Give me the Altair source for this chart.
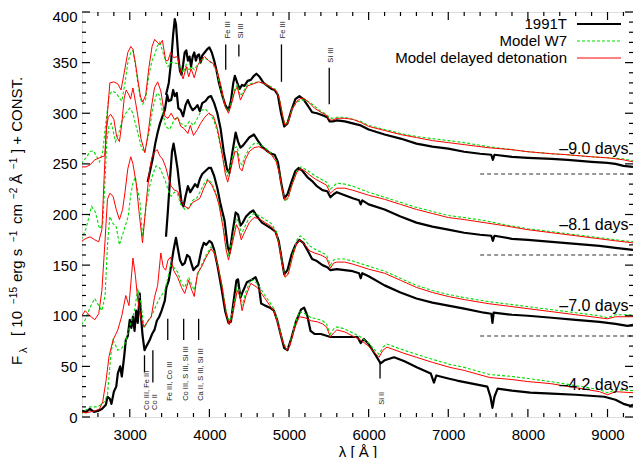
import altair as alt
import pandas as pd

# ---------------- data (wavelength [A], flux + const) ----------------
M90_OBS = [(3455,318),(3490,330),(3520,352),(3545,378),(3565,393),(3580,388),(3595,372),(3610,355),(3630,342),(3650,338),(3670,348),(3690,360),(3710,362),(3730,352),(3750,356),(3770,346),(3790,356),(3810,360),(3830,352),(3850,357),(3870,358),(3890,350),(3910,357),(3940,360),(3970,363),(4000,365),(4030,360),(4060,352),(4090,342),(4120,330),(4160,318),(4200,308),(4240,303),(4270,312),(4300,330),(4320,337),(4350,330),(4380,324),(4410,328),(4440,327),(4480,332),(4520,333),(4560,337),(4590,339),(4630,336),(4680,330),(4730,327),(4780,324),(4820,323),(4860,318),(4900,300),(4940,287),(4980,290),(5030,303),(5080,314),(5130,317),(5180,314),(5240,307),(5290,301),(5350,300),(5420,298),(5480,296),(5510,292),(5550,292),(5600,293),(5700,292),(5800,290),(5900,288),(6000,284),(6200,279),(6400,275),(6600,270),(6800,267),(7000,265),(7200,262),(7400,260),(7540,259),(7560,254),(7580,259),(7800,257),(8000,256),(8300,255),(8500,254),(8800,252),(9000,251),(9100,250),(9200,248),(9320,247)]
M90_W7 = [(2390,250),(2450,256),(2500,262),(2540,263),(2580,258),(2620,252),(2660,262),(2700,291),(2740,318),(2780,322),(2830,320),(2870,315),(2900,312),(2940,330),(2975,350),(3013,360),(3040,362),(3070,348),(3100,330),(3135,314),(3163,309),(3200,314),(3240,338),(3280,352),(3313,358),(3345,366),(3376,370),(3410,362),(3451,351),(3480,346),(3513,350),(3550,350),(3601,349),(3640,345),(3670,340),(3710,348),(3740,342),(3770,346),(3810,343),(3850,348),(3890,351),(3940,355),(3990,352),(4050,348),(4100,338),(4150,322),(4200,306),(4240,302),(4280,313),(4320,324),(4350,328),(4390,317),(4430,322),(4480,328),(4550,330),(4620,331),(4700,329),(4780,326),(4840,323),(4880,315),(4920,298),(4950,289),(4990,292),(5040,305),(5100,311),(5150,313),(5200,313),(5260,311),(5320,307),(5400,302),(5470,299),(5500,296),(5540,295),(5600,296),(5700,296),(5800,294),(5900,292),(6000,288),(6200,284),(6400,280),(6600,277),(6800,275),(7000,273),(7200,271),(7500,267),(7800,264),(8000,262),(8300,260),(8500,259),(8800,257),(9000,256),(9200,255),(9320,253)]
M90_DD = [(2390,247),(2450,247),(2500,249),(2560,254),(2620,256),(2685,258),(2720,300),(2750,330),(2800,331),(2850,329),(2890,323),(2930,340),(2975,360),(3013,366),(3040,363),(3070,350),(3100,334),(3135,316),(3163,311),(3200,318),(3240,345),(3280,366),(3313,373),(3345,370),(3376,368),(3410,372),(3451,352),(3480,352),(3513,360),(3550,355),(3601,356),(3640,340),(3670,334),(3710,346),(3740,336),(3770,344),(3810,335),(3850,347),(3890,352),(3940,356),(3990,352),(4050,349),(4100,341),(4150,326),(4200,306),(4240,300),(4280,310),(4320,322),(4350,326),(4390,313),(4430,320),(4480,327),(4550,329),(4620,331),(4700,329),(4780,325),(4840,322),(4880,314),(4920,298),(4950,288),(4990,291),(5040,304),(5100,312),(5150,315),(5200,314),(5260,310),(5320,305),(5400,301),(5470,298),(5500,294),(5540,293),(5600,295),(5700,295),(5800,294),(5900,291),(6000,287),(6200,283),(6400,279),(6600,276),(6800,273),(7000,271),(7200,269),(7500,266),(7800,264),(8000,262),(8300,260),(8500,259),(8800,257),(9000,256),(9200,254),(9320,252)]

M81_OBS = [(3225,232),(3260,245),(3290,256),(3320,270),(3350,281),(3380,290),(3410,297),(3440,303),(3470,318),(3490,312),(3520,313),(3545,323),(3565,317),(3590,320),(3610,305),(3640,303),(3670,297),(3700,308),(3730,313),(3760,307),(3790,303),(3820,305),(3850,308),(3880,302),(3910,310),(3950,312),(3990,316),(4020,317),(4060,310),(4100,300),(4140,285),(4180,262),(4220,245),(4250,241),(4290,262),(4330,281),(4360,272),(4390,266),(4420,268),(4450,271),(4500,276),(4560,279),(4600,274),(4660,267),(4720,263),(4780,260),(4820,259),(4860,252),(4900,232),(4940,216),(4980,220),(5030,232),(5080,243),(5120,246),(5170,243),(5230,237),(5290,233),(5350,228),(5420,224),(5480,223),(5520,217),(5560,220),(5600,222),(5700,219),(5800,216),(5880,214),(5900,210),(5920,214),(6000,210),(6200,205),(6400,198),(6600,192),(6800,188),(7000,185),(7200,182),(7400,180),(7540,179),(7560,174),(7580,179),(7800,176),(8000,175),(8300,173),(8600,171),(8900,169),(9100,167),(9320,165)]
M81_W7 = [(2390,175),(2450,186),(2520,208),(2570,202),(2620,186),(2660,190),(2690,235),(2710,272),(2740,288),(2770,290),(2820,272),(2860,280),(2900,292),(2950,300),(3000,305),(3040,300),(3070,290),(3110,278),(3150,265),(3190,262),(3240,280),(3290,305),(3340,320),(3370,318),(3400,306),(3450,287),(3500,284),(3550,292),(3601,296),(3640,290),(3700,287),(3750,292),(3800,288),(3850,295),(3900,303),(3950,304),(4000,300),(4050,294),(4100,282),(4150,262),(4200,244),(4230,238),(4270,250),(4320,266),(4350,267),(4380,252),(4410,249),(4450,258),(4500,265),(4560,270),(4620,270),(4700,266),(4780,260),(4840,253),(4880,241),(4920,222),(4950,213),(4990,216),(5040,230),(5100,243),(5150,247),(5200,245),(5260,242),(5330,238),(5400,235),(5470,232),(5520,225),(5560,228),(5600,231),(5700,230),(5800,228),(6000,222),(6200,217),(6400,212),(6600,207),(6800,203),(7000,199),(7200,197),(7450,194),(7700,190),(8000,186),(8300,183),(8600,180),(8900,177),(9100,175),(9320,173)]
M81_DD = [(2390,173),(2440,176),(2500,178),(2560,175),(2610,173),(2650,185),(2680,240),(2705,284),(2730,296),(2760,299),(2800,294),(2835,277),(2870,272),(2900,290),(2930,315),(2955,323),(2990,318),(3010,314),(3040,325),(3070,312),(3100,298),(3140,275),(3190,261),(3230,280),(3270,305),(3310,325),(3350,331),(3390,322),(3440,297),(3480,295),(3520,300),(3560,294),(3601,296),(3640,287),(3680,285),(3730,280),(3760,288),(3800,278),(3850,284),(3890,290),(3940,296),(3990,300),(4050,297),(4100,285),(4150,265),(4200,240),(4230,232),(4270,245),(4320,262),(4350,262),(4380,246),(4410,243),(4450,254),(4500,262),(4560,266),(4620,267),(4700,264),(4780,259),(4840,252),(4880,240),(4920,222),(4950,214),(4990,217),(5040,230),(5100,242),(5150,245),(5200,243),(5260,239),(5330,235),(5400,232),(5470,229),(5520,221),(5560,224),(5600,226),(5700,226),(5800,224),(6000,219),(6200,215),(6400,210),(6600,205),(6800,201),(7000,197),(7200,195),(7450,192),(7700,189),(8000,185),(8300,182),(8600,179),(8900,176),(9100,174),(9320,172)]

M70_OBS = [(3455,178),(3480,205),(3505,235),(3530,262),(3550,270),(3575,258),(3600,245),(3625,228),(3650,212),(3675,208),(3700,218),(3730,228),(3760,222),(3790,226),(3820,230),(3850,227),(3880,235),(3910,240),(3950,243),(3990,246),(4020,246),(4060,238),(4100,226),(4140,210),(4190,194),(4230,168),(4255,162),(4290,182),(4330,202),(4360,200),(4390,189),(4420,192),(4460,198),(4510,202),(4550,204),(4600,198),(4660,192),(4720,189),(4780,186),(4830,183),(4870,174),(4910,155),(4940,141),(4980,145),(5030,160),(5080,170),(5130,175),(5180,172),(5230,165),(5290,156),(5350,154),(5420,150),(5480,148),(5520,145),(5600,146),(5700,145),(5800,144),(5880,142),(5900,137),(5920,142),(6000,139),(6200,130),(6400,123),(6600,117),(6800,113),(7000,110),(7200,107),(7450,103),(7540,102),(7555,93),(7570,103),(7800,101),(8000,100),(8300,98),(8600,96),(8900,94),(9100,92),(9250,90),(9320,91)]
M70_W7 = [(2390,91),(2440,96),(2500,108),(2560,117),(2610,110),(2650,105),(2690,120),(2720,170),(2750,198),(2790,191),(2830,188),(2870,170),(2910,180),(2940,188),(2980,198),(3013,220),(3040,231),(3070,237),(3100,224),(3130,211),(3160,178),(3210,211),(3250,228),(3290,240),(3330,248),(3376,246),(3410,240),(3451,232),(3490,222),(3520,218),(3560,222),(3601,220),(3640,210),(3690,205),(3740,206),(3790,214),(3840,216),(3880,222),(3930,230),(3980,235),(4030,231),(4080,222),(4120,210),(4170,190),(4210,168),(4240,160),(4290,176),(4340,196),(4370,192),(4400,180),(4440,187),(4500,197),(4560,201),(4620,199),(4700,195),(4780,191),(4840,183),(4880,169),(4920,149),(4950,139),(4990,142),(5050,162),(5100,175),(5140,179),(5200,175),(5260,169),(5320,166),(5400,163),(5470,160),(5520,150),(5560,155),(5600,156),(5700,156),(5800,154),(6000,149),(6200,144),(6400,137),(6600,130),(6800,125),(7000,121),(7200,118),(7500,114),(7800,111),(8000,109),(8300,106),(8600,103),(8900,100),(9000,98),(9100,101),(9320,101)]
M70_DD = [(2390,99),(2440,105),(2500,100),(2560,96),(2610,102),(2650,125),(2690,175),(2720,215),(2750,221),(2790,218),(2830,205),(2870,195),(2910,205),(2940,222),(2975,245),(3013,257),(3040,250),(3080,231),(3120,200),(3160,172),(3210,215),(3250,245),(3280,257),(3313,262),(3345,264),(3376,258),(3410,255),(3451,247),(3490,235),(3520,228),(3560,224),(3601,223),(3640,214),(3690,208),(3740,206),(3790,212),(3840,214),(3880,216),(3930,226),(3980,234),(4030,229),(4080,220),(4120,210),(4170,188),(4210,165),(4240,155),(4290,172),(4340,190),(4370,185),(4400,175),(4440,182),(4500,192),(4560,197),(4620,196),(4700,192),(4780,188),(4840,181),(4880,168),(4920,148),(4950,138),(4990,141),(5050,160),(5100,172),(5140,175),(5200,170),(5260,164),(5320,162),(5400,160),(5470,157),(5520,147),(5560,152),(5600,153),(5700,153),(5800,151),(6000,146),(6200,142),(6400,135),(6600,128),(6800,123),(7000,119),(7200,116),(7500,112),(7800,109),(8000,107),(8300,104),(8600,101),(8900,98),(9000,97),(9100,99),(9320,99)]

M42_OBS = [(2400,6),(2450,5),(2500,8),(2550,5),(2600,6),(2650,8),(2700,12),(2720,20),(2750,18),(2770,13),(2800,25),(2830,30),(2850,43),(2880,50),(2900,40),(2930,60),(2950,76),(2975,80),(3000,96),(3020,88),(3040,99),(3060,85),(3080,105),(3100,93),(3125,122),(3140,100),(3160,81),(3185,66),(3210,70),(3250,76),(3280,82),(3310,86),(3340,95),(3370,99),(3400,105),(3440,115),(3460,128),(3490,135),(3520,150),(3550,165),(3580,177),(3600,168),(3630,155),(3660,150),(3690,152),(3720,160),(3750,158),(3780,150),(3800,145),(3830,148),(3860,150),(3900,165),(3930,172),(3960,170),(4000,174),(4030,172),(4060,165),(4100,150),(4150,128),(4200,104),(4240,93),(4270,94),(4310,118),(4340,135),(4360,136),(4390,118),(4420,124),(4470,133),(4520,135),(4580,138),(4620,130),(4650,112),(4700,110),(4760,108),(4810,105),(4850,96),(4900,80),(4940,68),(4980,66),(5030,78),(5090,95),(5150,106),(5190,108),(5230,100),(5270,85),(5320,82),(5400,82),(5480,80),(5520,79),(5600,79),(5700,79),(5860,79),(5900,73),(5940,77),(6000,72),(6080,62),(6150,53),(6200,56),(6320,59),(6450,55),(6610,49),(6780,43),(6820,34),(6850,41),(7000,38),(7110,36),(7300,33),(7490,30),(7530,20),(7555,9),(7580,20),(7620,28),(7800,26),(8030,24),(8300,23),(8600,22),(8960,20),(9100,17),(9200,13),(9290,11),(9320,12)]
M42_W7 = [(2390,3),(2450,7),(2500,10),(2600,10),(2680,15),(2720,22),(2760,60),(2790,76),(2850,66),(2900,68),(2940,73),(3010,92),(3060,105),(3100,127),(3140,112),(3180,88),(3230,95),(3270,99),(3330,110),(3380,118),(3440,125),(3480,138),(3513,150),(3550,148),(3601,143),(3650,132),(3690,128),(3740,138),(3780,130),(3810,125),(3850,140),(3900,150),(3960,160),(4020,168),(4060,163),(4100,152),(4160,130),(4210,105),(4250,94),(4290,104),(4350,130),(4380,125),(4410,110),(4460,124),(4520,136),(4600,132),(4690,121),(4760,113),(4810,107),(4860,94),(4920,75),(4970,67),(5010,72),(5070,91),(5130,104),(5200,102),(5280,98),(5355,97),(5420,95),(5470,92),(5520,82),(5560,87),(5600,89),(5700,87),(5800,83),(5900,79),(6000,73),(6080,66),(6130,62),(6180,69),(6230,72),(6300,70),(6440,66),(6600,62),(6800,57),(7020,52),(7200,49),(7520,42),(7800,40),(8000,38),(8280,35),(8600,31),(8900,27),(9000,24),(9100,27),(9320,26)]
M42_DD = [(2390,5),(2450,4),(2500,5),(2560,6),(2620,8),(2660,15),(2700,35),(2740,60),(2790,76),(2850,86),(2900,100),(2950,120),(2990,110),(3040,157),(3070,140),(3100,116),(3140,98),(3180,89),(3230,95),(3270,99),(3310,118),(3350,130),(3390,162),(3420,148),(3451,145),(3480,155),(3513,158),(3550,145),(3601,138),(3650,128),(3690,122),(3740,135),(3780,125),(3810,119),(3850,142),(3900,148),(3960,158),(4020,166),(4060,162),(4100,152),(4160,128),(4210,102),(4250,91),(4290,100),(4350,125),(4380,120),(4410,105),(4460,120),(4520,132),(4600,128),(4690,118),(4760,110),(4810,104),(4860,92),(4920,74),(4970,66),(5010,70),(5070,88),(5130,99),(5200,98),(5280,95),(5355,94),(5420,92),(5470,89),(5520,79),(5560,83),(5600,86),(5700,84),(5800,80),(5900,76),(6000,70),(6080,63),(6130,59),(6180,66),(6230,69),(6300,67),(6440,63),(6600,59),(6800,54),(7020,49),(7200,46),(7520,39),(7800,37),(8000,35),(8280,33),(8600,29),(8900,25),(9000,22),(9100,25),(9320,24)]

EPOCH_LABELS = ["\u20139.0 days", "\u20138.1 days", "\u20137.0 days", "\u20134.2 days"]
EPOCH_LABEL_Y = [265, 190, 110, 32]
ZERO_LEVELS = [240, 160, 80]

# line identifications: (label, wavelength, line bottom, line top, text anchor y)
TOP_IDS = [("Fe III", 4205, 343, 368, 374), ("Si III", 4370, 356, 368, 374),
           ("Fe III", 4905, 331, 368, 374), ("Si III", 5505, 309, 345, 350)]
BOT_IDS = [("Co III, Fe III", 3185, 44, 61, 7), ("Co II", 3290, 34, 66, 7),
           ("Fe III, Co III", 3477, 76, 97, 16), ("Co III, S III, Si III", 3677, 76, 97, 16),
           ("Ca II, S III, Si III", 3865, 76, 97, 16), ("Si II", 6143, 38, 53, 12)]

X_MAJOR = [3000, 4000, 5000, 6000, 7000, 8000, 9000]
X_MINOR = [v for v in range(2600, 9320, 200) if v % 1000 != 0]
Y_MAJOR = list(range(0, 401, 50))
Y_MINOR = [v for v in range(10, 400, 10) if v % 50 != 0]

# ---------------- build ----------------
W, H = 551, 405
PADL = 74
FONT = "Liberation Sans"
GREEN = "#00dd00"

def frame(kind, series):
    rows = []
    for ep, pts in series:
        for l, f in pts:
            rows.append({"lam": l, "flux": f, "epoch": ep, "kind": kind})
    return pd.DataFrame(rows)

df_obs = frame("1991T", [("m9.0", M90_OBS), ("m8.1", M81_OBS), ("m7.0", M70_OBS), ("m4.2", M42_OBS)])
df_w7 = frame("W7", [("m9.0", M90_W7), ("m8.1", M81_W7), ("m7.0", M70_W7), ("m4.2", M42_W7)])
df_dd = frame("DD", [("m9.0", M90_DD), ("m8.1", M81_DD), ("m7.0", M70_DD), ("m4.2", M42_DD)])

XS = alt.Scale(domain=[2400, 9320], nice=False, zero=False)
YS = alt.Scale(domain=[0, 400], nice=False, zero=False)
XA = alt.Axis(values=X_MAJOR, title="\u03bb  [ \u00c5 ]", ticks=False, tickSize=0, domain=False,
              grid=False, labelFontSize=15, labelPadding=10, labelColor="black", labelFont=FONT,
              titleFontSize=15, titleFontWeight="normal", titleFont=FONT, titleColor="black",
              titlePadding=2, format="d")
YA = alt.Axis(values=Y_MAJOR, title="", ticks=False, tickSize=0, domain=False, grid=False,
              labelFontSize=15, labelPadding=5, labelColor="black", labelFont=FONT, format="d",
              labelOffset={"condition": {"test": "datum.value >= 400", "value": 4}, "value": 0})

def xs(f):
    return alt.X(f, type="quantitative", scale=XS, axis=XA)

def ys(f):
    return alt.Y(f, type="quantitative", scale=YS, axis=YA)

one = pd.DataFrame({"a": [0]})
layers = []

# spectra
layers.append(alt.Chart(df_obs).mark_line(color="black", strokeWidth=2.2, strokeJoin="round", clip=True)
              .encode(x=xs("lam"), y=ys("flux"), detail="epoch:N"))
layers.append(alt.Chart(df_w7).mark_line(color=GREEN, strokeWidth=1.1, strokeDash=[3, 2], clip=True)
              .encode(x=xs("lam"), y=ys("flux"), detail="epoch:N"))
layers.append(alt.Chart(df_dd).mark_line(color="#ff0000", strokeWidth=1, clip=True)
              .encode(x=xs("lam"), y=ys("flux"), detail="epoch:N"))

# zero levels
zdf = pd.DataFrame({"lam": [7400] * 3, "lam2": [9320] * 3, "flux": ZERO_LEVELS})
layers.append(alt.Chart(zdf).mark_rule(color="#333333", strokeWidth=1.2, strokeDash=[4, 3])
              .encode(x=xs("lam"), x2="lam2", y=ys("flux")))

# epoch labels
edf = pd.DataFrame({"lam": [9265] * 4, "flux": EPOCH_LABEL_Y, "t": EPOCH_LABELS})
layers.append(alt.Chart(edf).mark_text(align="right", baseline="middle", fontSize=16, font=FONT, color="black")
              .encode(x=xs("lam"), y=ys("flux"), text="t:N"))

# line ids
tdf = pd.DataFrame([{"lam": l, "y1": a, "y2": b, "ty": t, "t": s} for s, l, a, b, t in TOP_IDS])
bdf = pd.DataFrame([{"lam": l, "y1": a, "y2": b, "ty": t, "t": s} for s, l, a, b, t in BOT_IDS])
for d in (tdf, bdf):
    layers.append(alt.Chart(d).mark_rule(color="black", strokeWidth=1.3)
                  .encode(x=xs("lam"), y=ys("y1"), y2="y2"))
    layers.append(alt.Chart(d).mark_text(angle=270, align="left", baseline="middle", fontSize=7.5,
                                         font=FONT, color="#222222", dy=2)
                  .encode(x=xs("lam"), y=ys("ty"), text="t:N"))

# inward ticks
xmaj = pd.DataFrame({"lam": X_MAJOR})
xmin = pd.DataFrame({"lam": X_MINOR})
ymaj = pd.DataFrame({"flux": Y_MAJOR})
ymin = pd.DataFrame({"flux": Y_MINOR})
for d, ln in ((xmaj, 8), (xmin, 4)):
    layers.append(alt.Chart(d).mark_rule(color="black", strokeWidth=1.2)
                  .encode(x=xs("lam"), y=alt.value(H), y2=alt.value(H - ln)))
    layers.append(alt.Chart(d).mark_rule(color="black", strokeWidth=1.2)
                  .encode(x=xs("lam"), y=alt.value(0), y2=alt.value(ln)))
for d, ln in ((ymaj, 8), (ymin, 4)):
    layers.append(alt.Chart(d).mark_rule(color="black", strokeWidth=1.2)
                  .encode(y=ys("flux"), x=alt.value(0), x2=alt.value(ln)))
    layers.append(alt.Chart(d).mark_rule(color="black", strokeWidth=1.2)
                  .encode(y=ys("flux"), x=alt.value(W), x2=alt.value(W - ln)))

# legend
LX = 485
LEG = [("1991T", "black", 2.2, None, 12), ("Model W7", GREEN, 1.1, [3, 2], 29),
       ("Model delayed detonation", "#ff0000", 1, None, 46)]
for name, col, sw, dash, yy in LEG:
    layers.append(alt.Chart(one).mark_text(align="right", baseline="middle", fontSize=15, font=FONT, color="black",
                                           text=name)
                  .encode(x=alt.value(LX), y=alt.value(yy)))
    kw = dict(color=col, strokeWidth=sw)
    if dash:
        kw["strokeDash"] = dash
    layers.append(alt.Chart(one).mark_rule(**kw)
                  .encode(x=alt.value(LX + 10), x2=alt.value(LX + 54), y=alt.value(yy)))

# y title pieces (rotated)
YT = [("F", -60, 353, 15), ("\u03bb", -55, 341, 11), ("[ 10", -60, 324, 15), ("\u221215", -65, 292, 10),
      ("erg s", -60, 270, 15), ("\u22121", -65, 230, 10), ("cm", -60, 212, 15), ("\u22122", -65, 187, 10),
      ("\u00c5", -60, 172, 15), ("\u22121", -65, 157, 10), ("] + CONST.", -60, 141, 15)]
for s, xx, yy, fs in YT:
    layers.append(alt.Chart(one).mark_text(angle=270, align="left", baseline="alphabetic", fontSize=fs,
                                           font=FONT, color="black", text=s)
                  .encode(x=alt.value(xx), y=alt.value(yy)))

chart = alt.layer(*layers).properties(
    width=W, height=H,
    autosize=alt.AutoSizeParams(type="none"),
    padding={"left": PADL, "top": 4, "right": 0, "bottom": 41},
).configure_view(stroke="black", strokeWidth=2).configure(font=FONT, background="white")

chart.save("out.html", embed_options={"renderer": "svg", "actions": False})
